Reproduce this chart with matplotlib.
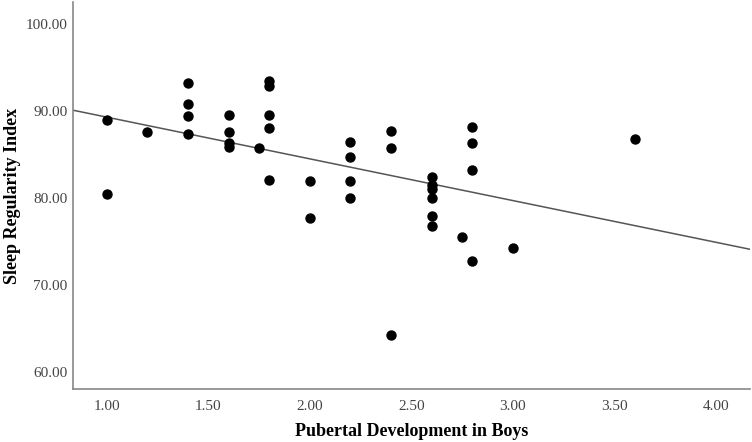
import matplotlib
matplotlib.use("Agg")
import matplotlib.pyplot as plt
import numpy as np

# pubertal development score (x) and sleep regularity index (y)
pubertal = [1.00, 1.00,
            1.20,
            1.40, 1.40, 1.40, 1.40,
            1.60, 1.60, 1.60, 1.60,
            1.75,
            1.80, 1.80, 1.80, 1.80, 1.80,
            2.00, 2.00,
            2.20, 2.20, 2.20, 2.20,
            2.40, 2.40, 2.40,
            2.60, 2.60, 2.60, 2.60, 2.60, 2.60,
            2.75,
            2.80, 2.80, 2.80, 2.80,
            3.00,
            3.60]
sri = [89.0, 80.5,
       87.6,
       93.2, 90.8, 89.4, 87.3,
       89.5, 87.6, 86.3, 85.9,
       85.8,
       93.5, 92.9, 89.5, 88.0, 82.1,
       81.9, 77.7,
       86.4, 84.7, 81.9, 80.0,
       87.7, 85.8, 64.2,
       82.4, 81.5, 81.0, 80.0, 77.9, 76.8,
       75.5,
       88.2, 86.3, 83.2, 72.7,
       74.2,
       86.8]

xticks = [1.0, 1.5, 2.0, 2.5, 3.0, 3.5, 4.0]
yticks = [60, 70, 80, 90, 100]

plt.rcParams['font.family'] = ['Liberation Serif', 'DejaVu Serif']

fig = plt.figure(figsize=(7.52, 4.42), dpi=100)
ax = fig.add_axes([0.097, 0.12, 0.9, 0.875])

ax.scatter(pubertal, sri, s=42, color='black', zorder=3)

# linear fit line across the whole axis
slope, intercept = np.polyfit(pubertal, sri, 1)
xlim = (0.833, 4.167)
xs = np.array(xlim)
ax.plot(xs, intercept + slope * xs, color='#555555', linewidth=1.1, zorder=2)

ax.set_xlim(*xlim)
ax.set_ylim(58.05, 102.5)
ax.set_xticks(xticks)
ax.set_yticks(yticks)
ax.set_xticklabels(['%.2f' % v for v in xticks])
ax.set_yticklabels(['%.2f' % v for v in yticks])
ax.tick_params(axis='x', length=0, labelsize=11, labelcolor='#444444', pad=8)
ax.tick_params(axis='y', length=0, labelsize=11, labelcolor='#444444', pad=4)

for side in ['top', 'right']:
    ax.spines[side].set_visible(False)
for side in ['left', 'bottom']:
    ax.spines[side].set_color('#888888')
    ax.spines[side].set_linewidth(1.2)

ax.set_xlabel('Pubertal Development in Boys', fontsize=13, fontweight='bold', va='center')
ax.set_ylabel('Sleep Regularity Index', fontsize=13, fontweight='bold', va='center')
ax.xaxis.set_label_coords(0.5, -0.111)
ax.yaxis.set_label_coords(-0.09, 0.5)

fig.savefig('out.png', dpi=100)
